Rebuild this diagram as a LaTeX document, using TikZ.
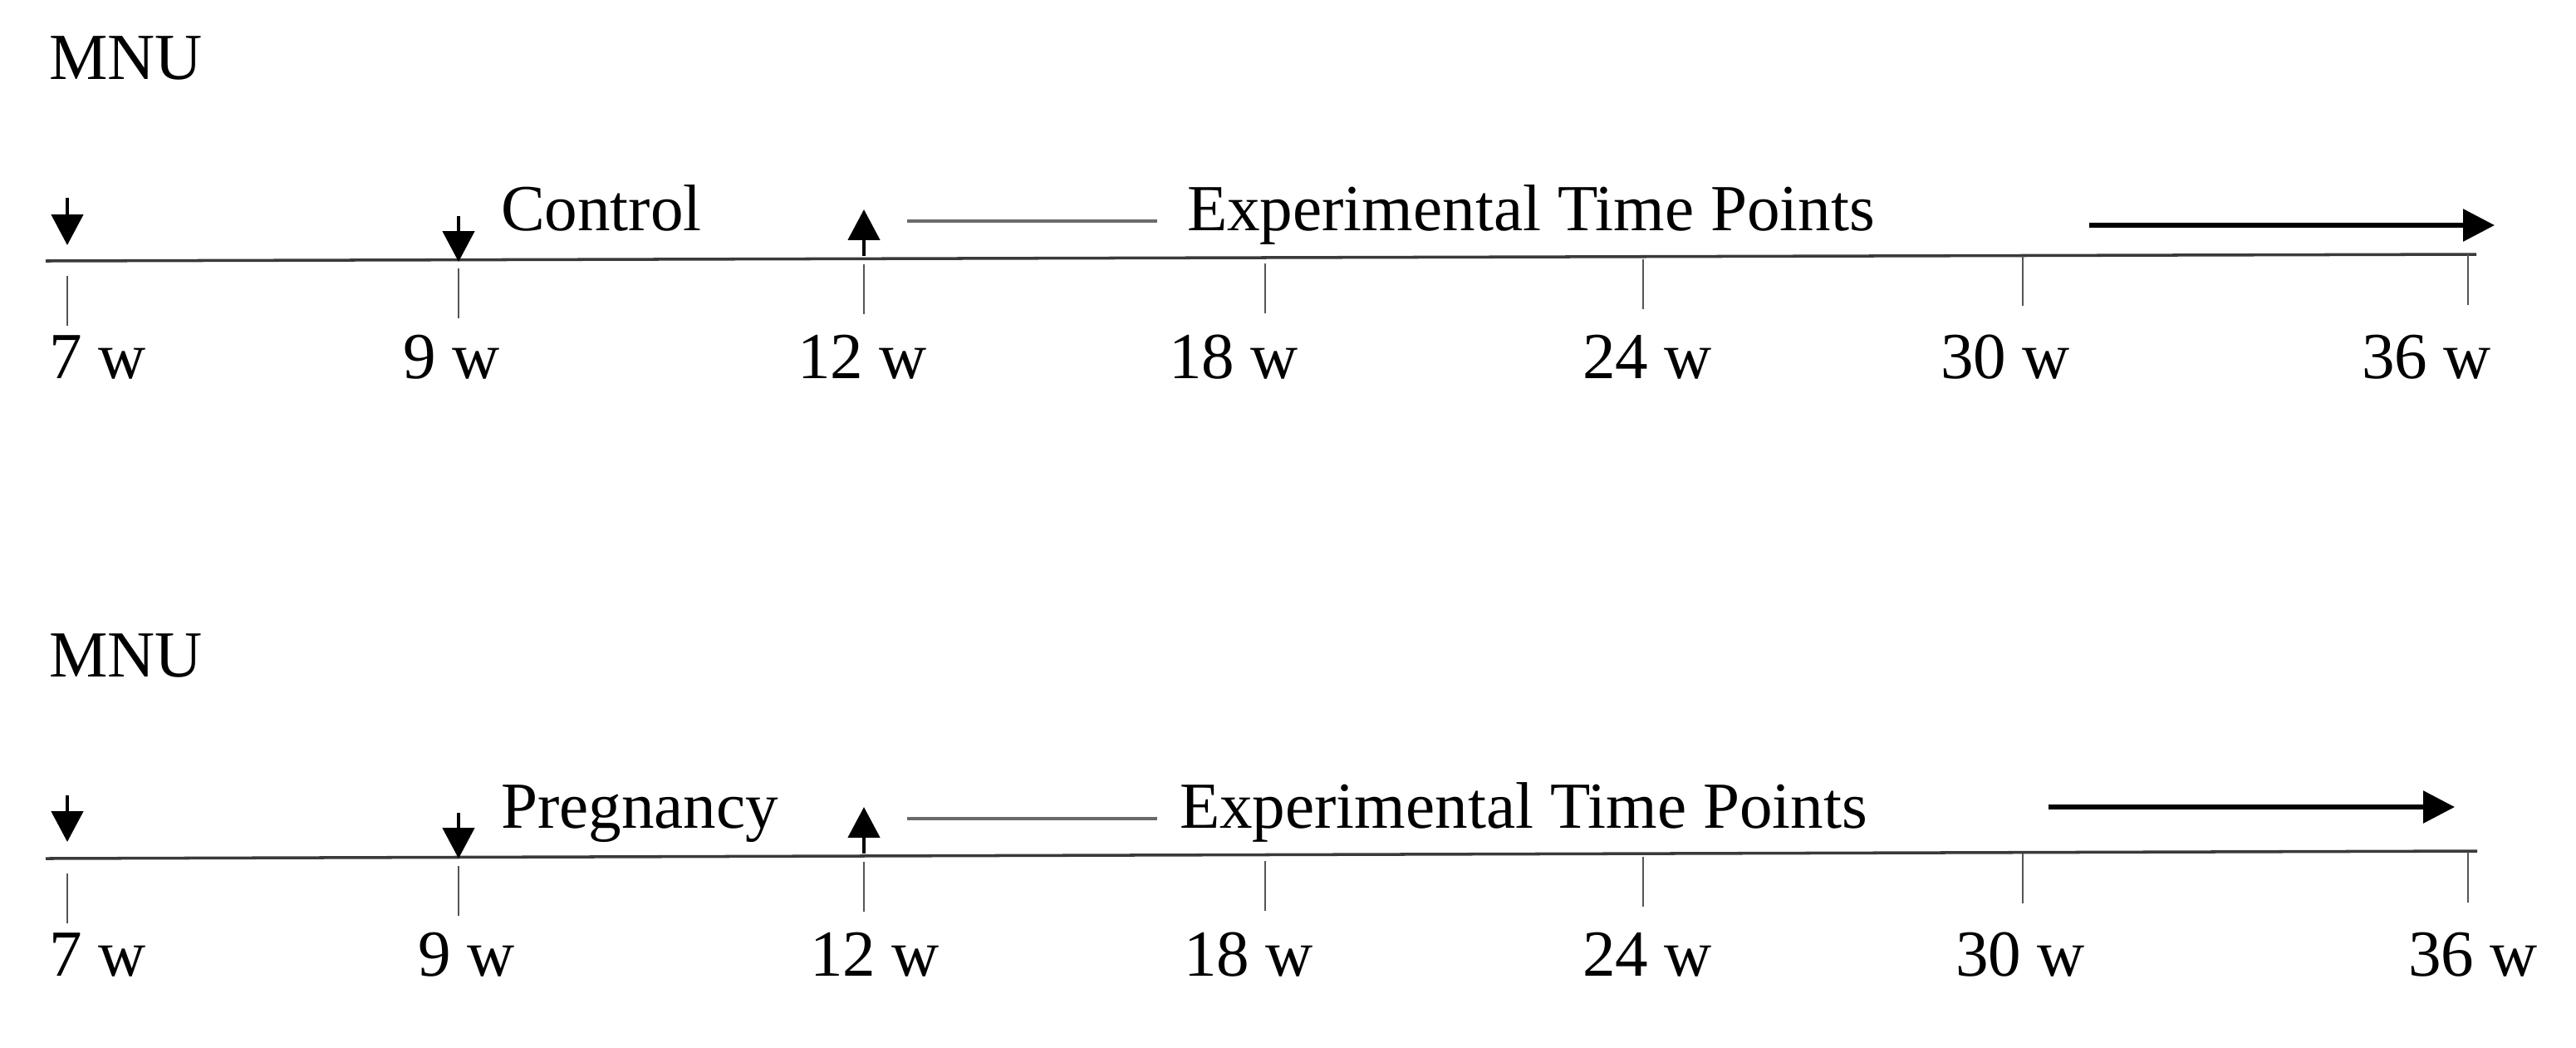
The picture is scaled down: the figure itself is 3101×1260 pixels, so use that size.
\documentclass[tikz,border=0pt]{standalone}
\usepackage{fontspec}
\setmainfont{Liberation Serif}
\usetikzlibrary{arrows.meta}
\definecolor{axisgray}{HTML}{3A3A3A}
\definecolor{tickgray}{HTML}{555555}
\definecolor{bargray}{HTML}{6A6A6A}
\tikzset{
  lab/.style={anchor=base west,inner sep=0pt,outer sep=0pt,font=\fontsize{22.5}{27}\selectfont},
  mainline/.style={draw=axisgray,line width=1pt},
  tickline/.style={draw=tickgray,line width=0.65pt},
  marker/.style={draw=black,line width=1.3pt,-{Triangle[width=10.8pt,length=10.5pt]}},
  bigarrow/.style={draw=black,line width=1.7pt,-{Triangle[width=10.8pt,length=10.8pt]}},
  greybar/.style={draw=bargray,line width=1.1pt},
}
\begin{document}
\begin{tikzpicture}[x=0.01cm,y=-0.01cm]
\useasboundingbox[fill=white] (0,0) rectangle (3101,1260);
% ---------- top timeline ----------
\node[lab] (mnuA) at (59,95) {MNU};
\coordinate (Aso) at (55,314);
\coordinate (Aeo) at (2981,306);
\draw[mainline] (Aso) -- (Aeo);
\foreach \x/\ya/\yb in {81/332/392,552/323/383,1040/318/378,1523/317/377,1978/312/372,2435/308/368,2971/306/367}
  \draw[tickline] (\x,\ya) -- (\x,\yb);
\node[lab] (A7) at (59,455) {7 w};
\node[lab] (A9) at (485,455) {9 w};
\node[lab] (A12) at (960,455) {12 w};
\node[lab] (A18) at (1407,455) {18 w};
\node[lab] (A24) at (1905,455) {24 w};
\node[lab] (A30) at (2336,455) {30 w};
\node[lab] (A36) at (2843,455) {36 w};
\coordinate (Am7a) at (81,238); \coordinate (Am7b) at (81,295);
\coordinate (Am9a) at (552,260); \coordinate (Am9b) at (552,315);
\coordinate (Am12a) at (1040,308); \coordinate (Am12b) at (1040,252);
\draw[marker] (Am7a) -- (Am7b);
\draw[marker] (Am9a) -- (Am9b);
\draw[marker] (Am12a) -- (Am12b);
\node[lab] (ctrl) at (603,277) {Control};
\coordinate (Aga) at (1092,266); \coordinate (Agb) at (1393,266);
\draw[greybar] (Aga) -- (Agb);
\node[lab] (expA) at (1429,277) {Experimental Time Points};
\coordinate (Aba) at (2515,271); \coordinate (Abb) at (3003,271);
\draw[bigarrow] (Aba) -- (Abb);
% ---------- bottom timeline ----------
\node[lab] (mnuB) at (59,814) {MNU};
\coordinate (Bso) at (55,1033);
\coordinate (Beo) at (2982,1024);
\draw[mainline] (Bso) -- (Beo);
\foreach \x/\ya/\yb in {81/1051/1111,552/1042/1102,1040/1037/1097,1523/1036/1096,1978/1031/1091,2435/1027/1087,2971/1025/1086}
  \draw[tickline] (\x,\ya) -- (\x,\yb);
\node[lab] (B7) at (59,1174) {7 w};
\node[lab] (B9) at (503,1174) {9 w};
\node[lab] (B12) at (975,1174) {12 w};
\node[lab] (B18) at (1425,1174) {18 w};
\node[lab] (B24) at (1905,1174) {24 w};
\node[lab] (B30) at (2354,1174) {30 w};
\node[lab] (B36) at (2899,1174) {36 w};
\coordinate (Bm7a) at (81,957); \coordinate (Bm7b) at (81,1013);
\coordinate (Bm9a) at (552,978); \coordinate (Bm9b) at (552,1033);
\coordinate (Bm12a) at (1040,1027); \coordinate (Bm12b) at (1040,971);
\draw[marker] (Bm7a) -- (Bm7b);
\draw[marker] (Bm9a) -- (Bm9b);
\draw[marker] (Bm12a) -- (Bm12b);
\node[lab] (preg) at (603,996) {Pregnancy};
\coordinate (Bga) at (1092,985); \coordinate (Bgb) at (1393,985);
\draw[greybar] (Bga) -- (Bgb);
\node[lab] (expB) at (1420,996) {Experimental Time Points};
\coordinate (Bba) at (2466,971); \coordinate (Bbb) at (2955,971);
\draw[bigarrow] (Bba) -- (Bbb);
\end{tikzpicture}
\end{document}
